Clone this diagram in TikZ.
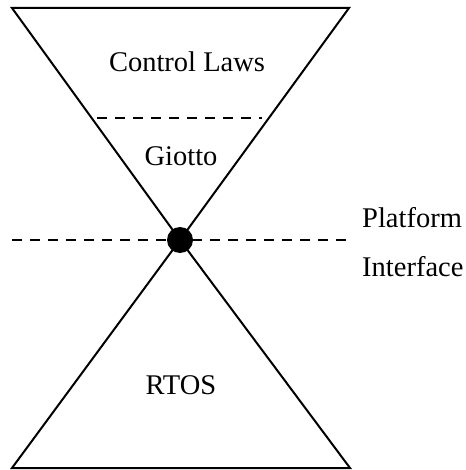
\documentclass[tikz,border=0pt]{standalone}
\usepackage{fontspec}
\setmainfont{Liberation Serif}
\begin{document}
\begin{tikzpicture}[x=1pt,y=-1pt,
  edge/.style={line width=2pt, line join=miter},
  dashline/.style={line width=2pt, dash pattern=on 10pt off 8pt},
  lbl/.style={font=\fontsize{28.5}{30}\selectfont, inner sep=0pt},
  lbll/.style={font=\fontsize{28.5}{30}\selectfont, inner sep=0pt, anchor=base west}]
\useasboundingbox (0,0) rectangle (465,470);
\coordinate (tl) at (12,8);
\coordinate (tr) at (349,8);
\coordinate (c) at (180,240);
\coordinate (bl) at (12,468);
\coordinate (br) at (350,468);
\draw[edge] (tl) -- (tr) -- (c) -- cycle;
\draw[edge] (c) -- (bl) -- (br) -- cycle;
\coordinate (d1) at (97,118);
\coordinate (d2) at (262,118);
\draw[dashline] (d1) -- (d2);
\coordinate (h1) at (12,240);
\coordinate (h2) at (350,240);
\draw[dashline] (h1) -- (h2);
\node[circle, fill=black, minimum size=26pt, inner sep=0pt] (dot) at (c) {};
\node[lbl] (cl) at (187,62) {Control Laws};
\node[lbl] (gi) at (181,156) {Giotto};
\node[lbl] (rt) at (181,385) {RTOS};
\node[lbll] (pf) at (362,227) {Platform};
\node[lbll] (if) at (362,276) {Interface};
\end{tikzpicture}
\end{document}
